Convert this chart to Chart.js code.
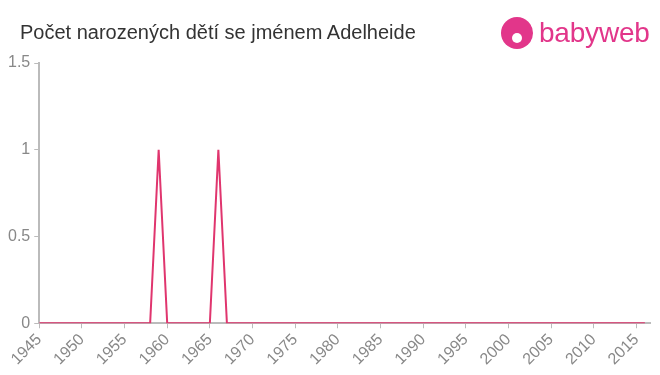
<!DOCTYPE html>
<html>
<head>
<meta charset="utf-8">
<script src="https://cdn.jsdelivr.net/npm/chart.js@4"></script>
<style>
	html, body { margin: 0; padding: 0; background: #fff; }
	#wrap { position: relative; width: 660px; height: 375px; }
	#titulek { position: absolute; left: 20px; top: 20px; line-height: 24px; font-family: "Liberation Sans", Arial, sans-serif; font-size: 20px; color: #333; white-space: nowrap; }
	#logo { position: absolute; left: 501px; top: 15px; height: 36px; display: flex; align-items: center; font-family: "Liberation Sans", Arial, sans-serif; }
	#logo .ico { width: 32px; height: 32px; border-radius: 50%; background: #e2368a; margin-right: 6px; position: relative; }
	#logo .ico::after { content: ""; position: absolute; left: 11px; top: 16px; width: 10px; height: 10px; border-radius: 50%; background: #fff; }
	#logo .txt { color: #e2368a; font-size: 28px; letter-spacing: -0.2px; }
</style>
</head>
<body>
<div id="wrap">
	<canvas id="myChart" width="660" height="375"></canvas>
	<div id="titulek">Počet narozených dětí se jménem Adelheide</div>
	<div id="logo"><div class="ico"></div><div class="txt">babyweb</div></div>
</div>
<script>
const roky = [1945, 1946, 1947, 1948, 1949, 1950, 1951, 1952, 1953, 1954,
	1955, 1956, 1957, 1958, 1959, 1960, 1961, 1962, 1963, 1964,
	1965, 1966, 1967, 1968, 1969, 1970, 1971, 1972, 1973, 1974,
	1975, 1976, 1977, 1978, 1979, 1980, 1981, 1982, 1983, 1984,
	1985, 1986, 1987, 1988, 1989, 1990, 1991, 1992, 1993, 1994,
	1995, 1996, 1997, 1998, 1999, 2000, 2001, 2002, 2003, 2004,
	2005, 2006, 2007, 2008, 2009, 2010, 2011, 2012, 2013, 2014,
	2015, 2016];
const pocty = [0, 0, 0, 0, 0, 0, 0, 0, 0, 0,
	0, 0, 0, 0, 1, 0, 0, 0, 0, 0,
	0, 1, 0, 0, 0, 0, 0, 0, 0, 0,
	0, 0, 0, 0, 0, 0, 0, 0, 0, 0,
	0, 0, 0, 0, 0, 0, 0, 0, 0, 0,
	0, 0, 0, 0, 0, 0, 0, 0, 0, 0,
	0, 0, 0, 0, 0, 0, 0, 0, 0, 0,
	0, 0];
const xTicks = [1945, 1950, 1955, 1960, 1965, 1970, 1975, 1980, 1985, 1990, 1995, 2000, 2005, 2010, 2015];
const yTicks = [0, 0.5, 1, 1.5];

const osa = '#bbbbbb';
const popisky = '#888888';

const ctx = document.getElementById('myChart').getContext('2d');
new Chart(ctx, {
	type: 'line',
	data: {
		datasets: [{
			data: roky.map((r, i) => ({ x: r, y: pocty[i] })),
			borderColor: '#e0356e',
			borderWidth: 2,
			pointRadius: 0,
			tension: 0,
			fill: false
		}]
	},
	options: {
		responsive: false,
		animation: false,
		layout: { padding: { left: 4, right: 10, top: 63, bottom: 4 } },
		plugins: {
			legend: { display: false },
			tooltip: { enabled: false }
		},
		scales: {
			x: {
				type: 'linear',
				min: 1945,
				max: 2016.6,
				afterBuildTicks: axis => { axis.ticks = xTicks.map(v => ({ value: v })); },
				ticks: {
					color: popisky,
					font: { family: '"Liberation Sans", Arial, sans-serif', size: 16 },
					minRotation: 45,
					maxRotation: 45,
					padding: 2,
					callback: v => String(v)
				},
				grid: { drawOnChartArea: false, drawTicks: true, tickLength: 5, color: osa },
				border: { color: osa, width: 2 }
			},
			y: {
				min: 0,
				max: 1.5,
				afterBuildTicks: axis => { axis.ticks = yTicks.map(v => ({ value: v })); },
				ticks: {
					color: popisky,
					font: { family: '"Liberation Sans", Arial, sans-serif', size: 16 },
					padding: 4,
					callback: v => String(v)
				},
				grid: { drawOnChartArea: false, drawTicks: true, tickLength: 5, color: osa },
				border: { color: osa, width: 2 }
			}
		}
	}
});
</script>
</body>
</html>
